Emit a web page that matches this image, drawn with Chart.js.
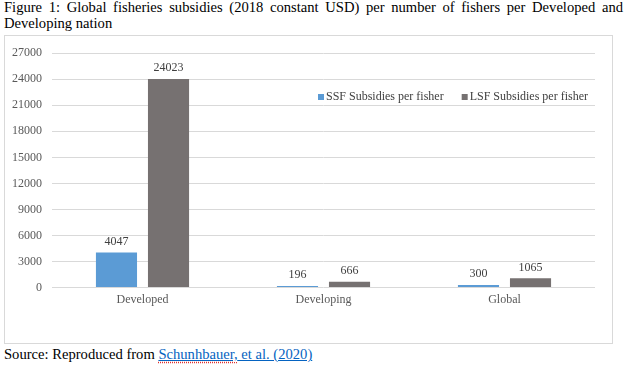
<!DOCTYPE html>
<html>
<head>
<meta charset="utf-8">
<script src="https://cdn.jsdelivr.net/npm/chart.js@4.4.1/dist/chart.umd.min.js"></script>
<style>
  body { margin: 0; background: #fff; font-family: "Liberation Serif", "Times New Roman", serif; }
  .title { position: absolute; left: 4px; top: 0; width: 619px; font-size: 14.6px; line-height: 15.5px; text-align: justify; color: #000; }
  .box { position: absolute; left: 4px; top: 35px; width: 607px; height: 307px; border: 1px solid #d9d9d9; }
  .source { position: absolute; left: 4px; top: 346px; font-size: 14.6px; color: #000; }
  .source a { color: #0563c1; text-decoration: underline; }
  .squiggle { text-decoration: underline dotted #e03030; text-underline-offset: 3px; }
</style>
</head>
<body>
<div class="title">Figure 1: Global fisheries subsidies (2018 constant USD) per number of fishers per Developed and Developing nation</div>
<div class="box"><canvas id="fishChart"></canvas></div>
<div class="source">Source: Reproduced from <a><span class="squiggle">Schunhbauer,</span> et al. (2020)</a></div>
<script>
const categories = ['Developed', 'Developing', 'Global'];
const ssfValues = [4047, 196, 300];
const lsfValues = [24023, 666, 1065];
const seriesNames = ['SSF Subsidies per fisher', 'LSF Subsidies per fisher'];

const serif = "'Liberation Serif', 'Times New Roman', serif";
Chart.defaults.font.family = serif;
Chart.defaults.font.size = 12;

// value labels above each bar
const barLabels = {
    id: 'barLabels',
    afterDatasetsDraw(chart) {
        const ctx = chart.ctx;
        ctx.save();
        ctx.font = '12px ' + serif;
        ctx.fillStyle = '#404040';
        ctx.textAlign = 'center';
        ctx.textBaseline = 'bottom';
        chart.data.datasets.forEach((ds, i) => {
            chart.getDatasetMeta(i).data.forEach((bar, j) => {
                ctx.fillText(ds.data[j], bar.x, bar.y - 5);
            });
        });
        ctx.restore();
    }
};

// legend sitting inside the plot, top right
const insideLegend = {
    id: 'insideLegend',
    afterDraw(chart) {
        const ctx = chart.ctx;
        const area = chart.chartArea;
        ctx.save();
        ctx.font = '12px ' + serif;
        ctx.textBaseline = 'middle';
        let x = area.right - 277;
        const y = 61;
        chart.data.datasets.forEach(ds => {
            ctx.fillStyle = ds.backgroundColor;
            ctx.fillRect(x, y - 3, 6, 6);
            ctx.fillStyle = '#404040';
            ctx.fillText(ds.label, x + 8, y);
            x += ctx.measureText(ds.label).width + 8 + 18;
        });
        ctx.restore();
    }
};

const ctx = document.getElementById('fishChart').getContext('2d');
new Chart(ctx, {
    type: 'bar',
    data: {
        labels: categories,
        datasets: [{
            label: seriesNames[0],
            data: ssfValues,
            backgroundColor: '#5b9bd5'
        }, {
            label: seriesNames[1],
            data: lsfValues,
            backgroundColor: '#767171'
        }]
    },
    options: {
        responsive: true,
        maintainAspectRatio: false,
        animation: false,
        categoryPercentage: 0.575,
        barPercentage: 0.79,
        layout: { padding: { left: 0, right: 17, top: 10, bottom: 31 } },
        plugins: {
            legend: { display: false },
            tooltip: { enabled: false }
        },
        scales: {
            x: {
                grid: { display: false, drawTicks: false },
                border: { display: false },
                ticks: { color: '#595959', font: { family: serif, size: 12 }, padding: 5 }
            },
            y: {
                min: 0,
                max: 27000,
                afterFit: scale => { scale.width = 47; },
                grid: { color: '#d9d9d9', drawTicks: false },
                border: { display: false },
                ticks: {
                    stepSize: 3000,
                    color: '#595959',
                    font: { family: serif, size: 12 },
                    padding: 10,
                    callback: value => String(value)
                }
            }
        }
    },
    plugins: [barLabels, insideLegend]
});
</script>
</body>
</html>
